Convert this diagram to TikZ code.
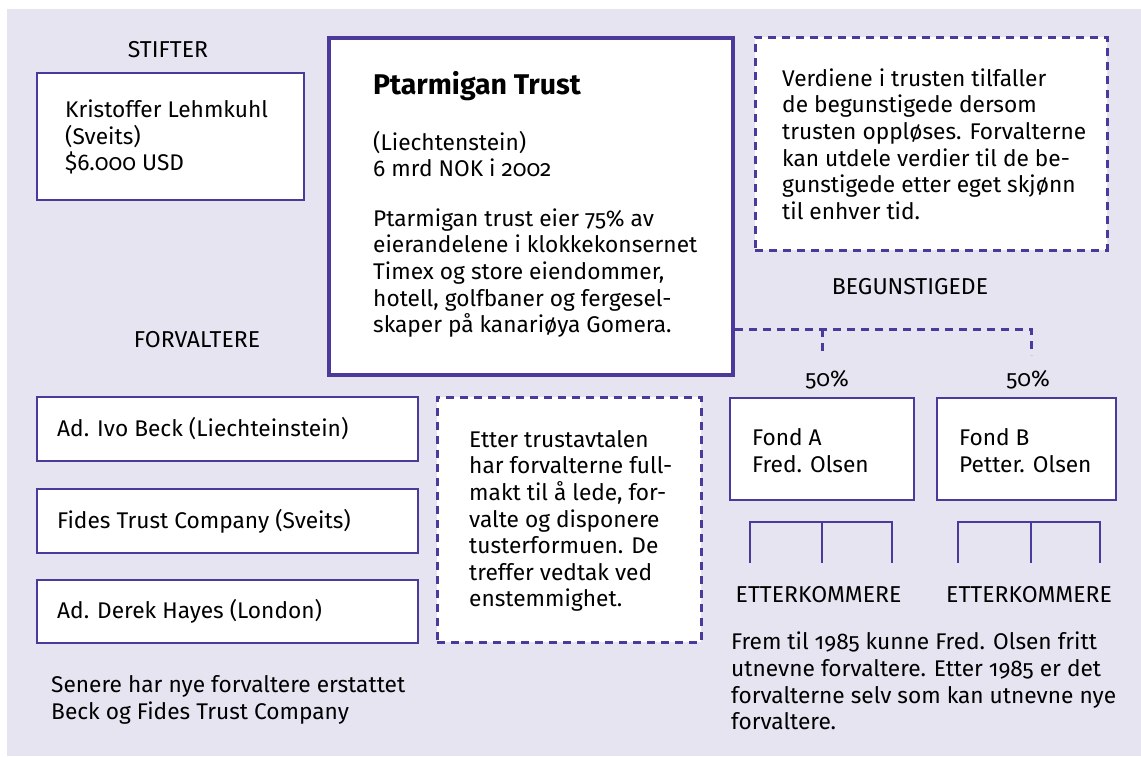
\documentclass[tikz,border=0pt]{standalone}
\usepackage{fontspec}
\setmainfont{Fira Sans}[Numbers=OldStyle]
\definecolor{pur}{HTML}{4B3A9C}
\definecolor{bg}{HTML}{E7E4F2}
\tikzset{
  x=1pt, y=-1pt,
  box/.style={draw=pur, line width=2.5pt, fill=white, inner sep=0pt},
  mainbox/.style={draw=pur, line width=4pt, fill=white, inner sep=0pt},
  dbox/.style={draw=pur, line width=3pt, dash pattern=on 8pt off 6pt, fill=white, inner sep=0pt},
  dline/.style={draw=pur, line width=3pt, dash pattern=on 8pt off 6pt},
  bracket/.style={draw=pur, line width=2.5pt},
  txt/.style={anchor=west, align=left, inner sep=0pt, font=\fontsize{22.7}{26.6}\selectfont},
  lbl/.style={inner sep=0pt, font=\fontsize{23}{26}\selectfont},
  ttl/.style={anchor=base west, inner sep=0pt, font=\fontsize{28.5}{32}\selectfont\bfseries}
}
\begin{document}
\begin{tikzpicture}
\useasboundingbox (0,0) rectangle (1141,756);
\fill[white] (0,0) rectangle (1141,756);
\fill[bg] (7,9) rectangle (1141,756);

% STIFTER
\node[lbl] (lstifter) at (168,50) {STIFTER};
\node[box, minimum width=267pt, minimum height=127pt] (stifter) at (170.5,136.5) {};
\node[txt] (tstifter) at (65,137) {Kristoffer Lehmkuhl\\(Sveits)\\\$6.000 USD};

% Main trust box
\node[mainbox, minimum width=404pt, minimum height=337pt] (main) at (531,206.5) {};
\node[ttl] (ttitle) at (373,94) {Ptarmigan Trust};
\node[txt] (tsub) at (373,154) {(Liechtenstein)\\6 mrd NOK i 2002};
\node[txt] (tbody) at (373,273) {Ptarmigan trust eier 75\% av\\eierandelene i klokkekonsernet\\Timex og store eiendommer,\\hotell, golfbaner og fergesel-\\skaper på kanariøya Gomera.};

% Right dashed note
\node[dbox, minimum width=352pt, minimum height=213pt] (note) at (931,143.5) {};
\node[txt] (tnote) at (782,144) {Verdiene i trusten tilfaller\\de begunstigede dersom\\trusten oppløses. Forvalterne\\kan utdele verdier til de be-\\gunstigede etter eget skjønn\\til enhver tid.};

% Begunstigede
\node[lbl] (lbeg) at (910,287) {BEGUNSTIGEDE};
\coordinate (jA) at (822,329);
\coordinate (jB) at (1031,329);
\coordinate (dA) at (822,355);
\coordinate (dB) at (1031,355);
\draw[dline] (main.east |- jA) -- (jB) -- (dB);
\draw[dline] (jA) -- (dA);
\node[txt, anchor=center] (pA) at (827,380) {50\%};
\node[txt, anchor=center] (pB) at (1028,380) {50\%};

\node[box, minimum width=184pt, minimum height=102pt] (fondA) at (822,449) {};
\node[txt] (tfondA) at (752,450.5) {Fond A\\Fred. Olsen};
\node[box, minimum width=179pt, minimum height=102pt] (fondB) at (1026.5,449) {};
\node[txt] (tfondB) at (959,450.5) {Fond B\\Petter. Olsen};

% brackets
\draw[bracket] (750,563) -- (750,522) -- (892,522) -- (892,563);
\draw[bracket] (822,522) -- (822,563);
\draw[bracket] (958,563) -- (958,522) -- (1100,522) -- (1100,563);
\draw[bracket] (1031,522) -- (1031,563);
\node[lbl] (lettA) at (818.5,595) {ETTERKOMMERE};
\node[lbl] (lettB) at (1029,595) {ETTERKOMMERE};
\node[txt] (tfrem) at (731,681) {Frem til 1985 kunne Fred. Olsen fritt\\utnevne forvaltere. Etter 1985 er det\\forvalterne selv som kan utnevne nye\\forvaltere.};

% Forvaltere
\node[lbl] (lforv) at (197,340) {FORVALTERE};
\node[box, minimum width=381pt, minimum height=64pt] (f1) at (227.5,429) {};
\node[txt] (tf1) at (57,429) {Ad. Ivo Beck (Liechteinstein)};
\node[box, minimum width=381pt, minimum height=64pt] (f2) at (227.5,521) {};
\node[txt] (tf2) at (57,521) {Fides Trust Company (Sveits)};
\node[box, minimum width=381pt, minimum height=63pt] (f3) at (227.5,611.5) {};
\node[txt] (tf3) at (57,611.5) {Ad. Derek Hayes (London)};

\node[dbox, minimum width=264pt, minimum height=245pt] (avtale) at (569,519.5) {};
\node[txt] (tavtale) at (469,521) {Etter trustavtalen\\har forvalterne full-\\makt til å lede, for-\\valte og disponere\\tusterformuen. De\\treffer vedtak ved\\enstemmighet.};

\node[txt] (tsenere) at (51,700) {Senere har nye forvaltere erstattet\\Beck og Fides Trust Company};
\end{tikzpicture}
\end{document}
